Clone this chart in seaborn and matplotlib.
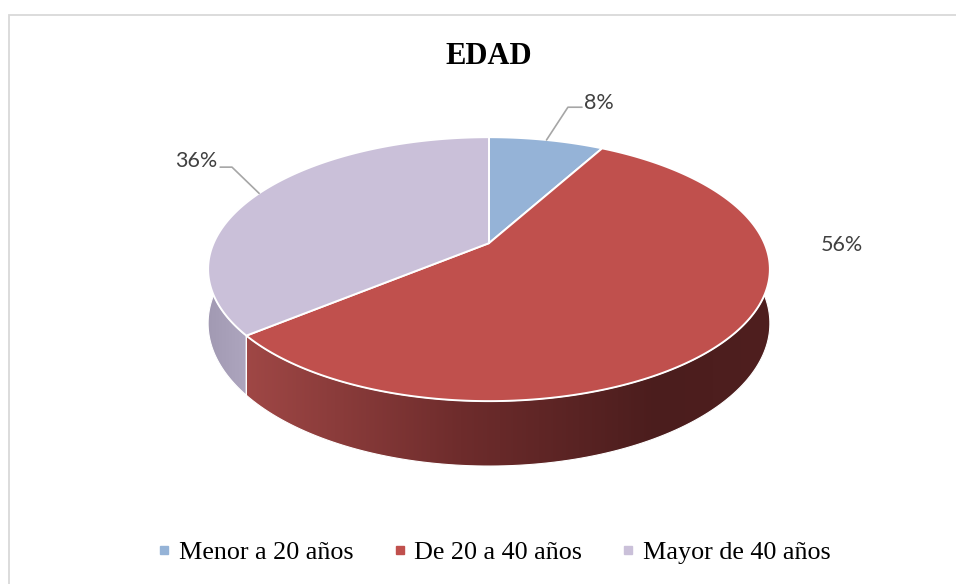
import numpy as np
import matplotlib.pyplot as plt
from matplotlib.patches import Polygon, Rectangle
from matplotlib.colors import LinearSegmentedColormap
from matplotlib.lines import Line2D
import seaborn as sns

# data
categories = ['Menor a 20 años', 'De 20 a 40 años', 'Mayor de 40 años']
values = [8, 56, 36]
pct_text = ['8%', '56%', '36%']
top_colors = ['#95b3d7', '#c0504d', '#cac0d9']
side_colors = [
    [(0, '#7b96ba'), (1, '#6a84a6')],
    [(0, '#a84c4a'), (0.45, '#6e2c2c'), (0.8, '#4b1d1d'), (1, '#4f1f1f')],
    [(0, '#a29ab3'), (0.1, '#b3abc4'), (1, '#b3abc4')],
]

sns.set_style('white')
plt.rcParams['font.family'] = ['Liberation Serif', 'DejaVu Serif']
plt.rcParams['text.color'] = 'black'

fig = plt.figure(figsize=(9.56, 5.84), dpi=100)
ax = fig.add_axes([0.1883, 0.1798, 0.6464, 0.6079])
ax.set_xlim(-1.1, 1.1)
ax.set_ylim(-1.59, 1.1)
ax.axis('off')

# 3d look: perspective tilt and side depth
tilt = 0.197
depth = 0.395


def proj(t, r=1.0):
    x, y = r * np.cos(t), r * np.sin(t)
    den = 1 + tilt * y
    return np.sqrt(1 - tilt ** 2) * x / den, (y + tilt) / den


fr = np.array(values) / sum(values)
ends = np.pi / 2 - 2 * np.pi * np.cumsum(fr)
starts = ends + 2 * np.pi * fr

# side walls (front half only)
grad = np.linspace(0, 1, 256).reshape(1, -1)
for i in range(len(values)):
    for k in (-1, 0, 1):
        lo = max(ends[i] + 2 * np.pi * k, np.pi)
        hi = min(starts[i] + 2 * np.pi * k, 2 * np.pi)
        if hi <= lo:
            continue
        t = np.linspace(lo, hi, 120)
        xt, yt = proj(t)
        yb = yt - depth / (1 + tilt * np.sin(t))
        pts = np.column_stack([np.r_[xt, xt[::-1]], np.r_[yt, yb[::-1]]])
        poly = Polygon(pts, closed=True, facecolor='none', edgecolor='white',
                       lw=0.8, zorder=1.5)
        ax.add_patch(poly)
        cmap = LinearSegmentedColormap.from_list('side%d' % i, side_colors[i])
        im = ax.imshow(grad, cmap=cmap, extent=[-1, 1, -1.6, 0.4],
                       aspect='auto', origin='lower', zorder=1)
        im.set_clip_path(poly)

# top face
for i in range(len(values)):
    t = np.linspace(starts[i], ends[i], 200)
    xt, yt = proj(t)
    ax0, ay0 = proj(0, 0)
    ax.fill(np.r_[ax0, xt], np.r_[ay0, yt], color=top_colors[i],
            ec='white', lw=1.4, zorder=2)

# data labels
mid = (starts + ends) / 2
label_font = dict(family=['Lato', 'DejaVu Sans'], fontsize=15.5, color='#404040',
                  clip_on=False)
lc = '#a6a6a6'

sx, sy = proj(mid[0])
ax.plot([sx, 0.281, 0.331], [sy, 1.227, 1.227], color=lc, lw=1.2, zorder=3,
        clip_on=False)
ax.text(0.338, 1.262, pct_text[0], ha='left', va='center', **label_font)

ax.text(1.256, 0.182, pct_text[1], ha='center', va='center', **label_font)

sx, sy = proj(mid[2])
ax.plot([sx, -0.915, -0.957], [sy, 0.773, 0.773], color=lc, lw=1.2, zorder=3,
        clip_on=False)
ax.text(-0.966, 0.822, pct_text[2], ha='right', va='center', **label_font)

# title
fig.text(489 / 956, 1 - 64 / 584, 'EDAD', ha='center', va='baseline',
         fontsize=22, fontweight='bold', color='black')

# legend
handles = [Line2D([], [], ls='none', marker='s', markersize=6,
                  markerfacecolor=c, markeredgecolor=c) for c in top_colors]
leg = fig.legend(handles, categories, loc='center', ncol=3,
                 bbox_to_anchor=(495 / 956, 1 - 552 / 584), frameon=False,
                 fontsize=18.8, handlelength=0.4, handletextpad=0.37,
                 columnspacing=1.55, borderaxespad=0)
for txt in leg.get_texts():
    txt.set_color('black')

# chart border
fig.add_artist(Rectangle((9 / 956, -0.2), 2, 1.2 - 15 / 584,
                         transform=fig.transFigure, fill=False,
                         edgecolor='#d9d9d9', lw=1.3))

fig.savefig('out.png', dpi=100)
